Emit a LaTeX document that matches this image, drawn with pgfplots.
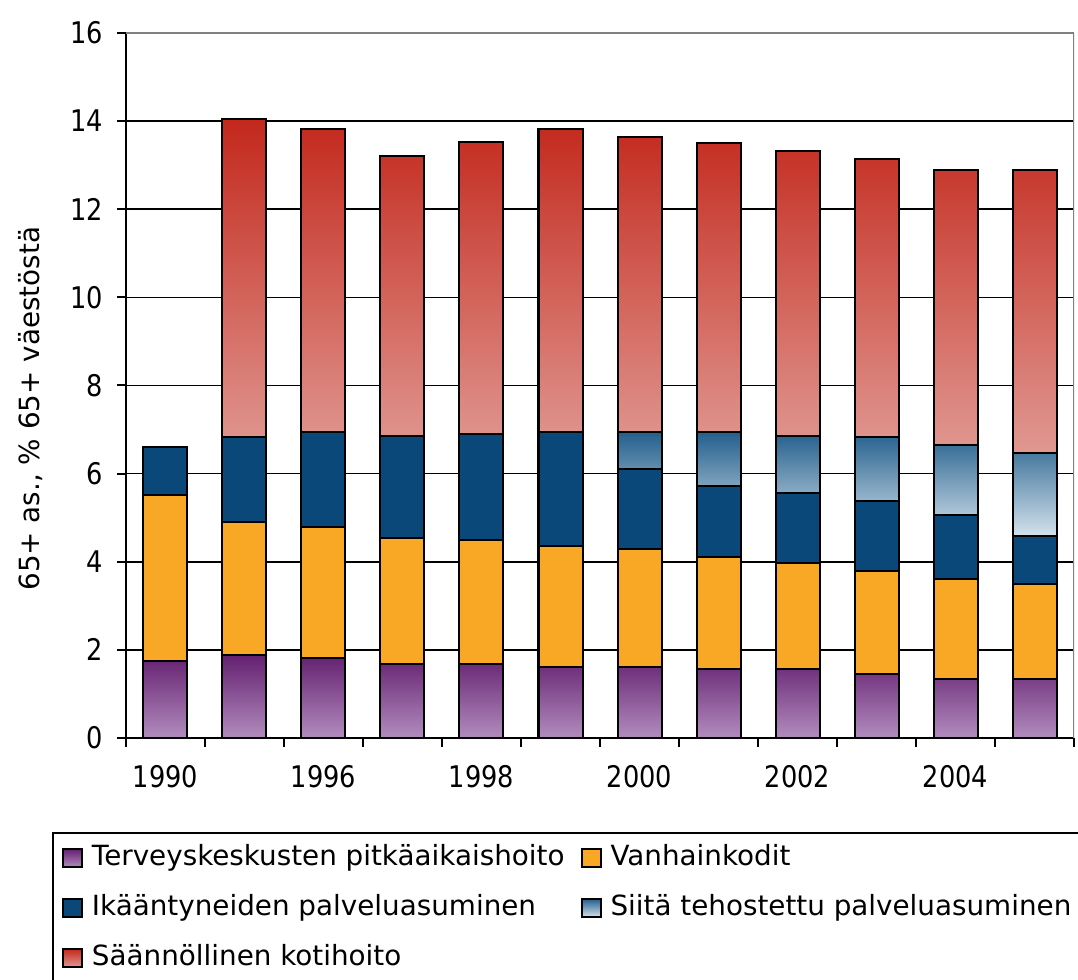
\documentclass[border=0pt]{standalone}
\usepackage{fontspec}
\setmainfont{DejaVu Sans}
\newfontfamily\tickfont[FakeStretch=0.86]{DejaVu Sans}
\usepackage{pgfplots}
\pgfplotsset{compat=1.18}
\definecolor{purpTop}{RGB}{100,32,112}
\definecolor{purpBot}{RGB}{178,140,190}
\definecolor{orng}{RGB}{249,168,37}
\definecolor{dblue}{RGB}{10,72,122}
\definecolor{lbTop}{RGB}{35,95,140}
\definecolor{lbBot}{RGB}{212,226,236}
\definecolor{redTop}{RGB}{195,40,28}
\definecolor{redBot}{RGB}{224,152,146}
\pgfplotsset{sqlegend/.style={legend image code/.code={\draw[##1,line width=1pt] (0pt,-4.5pt) rectangle (9.5pt,4.5pt);}}}
\begin{document}
\begin{tikzpicture}
\begin{axis}[
  scale only axis, width=474pt, height=352.5pt,
  ybar stacked, bar width=22pt,
  xmin=-0.5, xmax=11.5, ymin=0, ymax=16,
  axis x line*=bottom, axis y line*=left,
  axis line style={-, black, line width=1pt},
  tick align=outside,
  ytick={0,2,...,14}, extra y ticks={16},
  extra y tick style={grid style={gray, line width=1pt}},
  ymajorgrids, grid style={black, line width=0.8pt},
  major tick length=4.5pt, minor tick length=4.5pt,
  tick style={black, line width=1pt},
  xtick={0,2,4,6,8,10}, xticklabels={1990,1996,1998,2000,2002,2004},
  major x tick style={draw=none},
  minor xtick={-0.5,0.5,...,11.5},
  ticklabel style={font=\tickfont\fontsize{14.9}{17}\selectfont},
  /pgf/number format/assume math mode=true,
  xticklabel style={yshift=-5.5pt},
  yticklabel style={xshift=-3.5pt},
  ylabel={65+ as., \% 65+ väestöstä},
  ylabel style={at={(ticklabel cs:0.467,-2pt)}, font=\fontsize{13.9}{16}\selectfont},
  legend columns=2,
  legend cell align=left,
  legend style={at={(-0.0781,-0.1333)}, anchor=north west, draw=black, line width=1pt,
    font=\fontsize{13.9}{16}\selectfont, inner xsep=4.5pt, inner ysep=5.6pt,
    column sep=0pt, row sep=11.2pt,
    nodes={inner xsep=4.5pt, inner ysep=0pt, text height=10.5pt, text depth=3.3pt},
    /tikz/every even column/.append style={column sep=3.5pt}},
]
\addplot[draw=black, line width=1pt, top color=purpTop, bottom color=purpBot, sqlegend] coordinates {
(0,1.75) (1,1.88) (2,1.81) (3,1.69) (4,1.69) (5,1.62) (6,1.62) (7,1.56) (8,1.56) (9,1.45) (10,1.33) (11,1.33)};
\addplot[draw=black, line width=1pt, fill=orng, sqlegend] coordinates {
(0,3.76) (1,3.02) (2,2.98) (3,2.85) (4,2.80) (5,2.74) (6,2.67) (7,2.55) (8,2.42) (9,2.34) (10,2.27) (11,2.16)};
\addplot[draw=black, line width=1pt, fill=dblue, sqlegend] coordinates {
(0,1.09) (1,1.93) (2,2.16) (3,2.31) (4,2.42) (5,2.59) (6,1.81) (7,1.61) (8,1.57) (9,1.58) (10,1.46) (11,1.09)};
\addplot[draw=black, line width=1pt, top color=lbTop, bottom color=lbBot, sqlegend] coordinates {
(0,0) (1,0) (2,0) (3,0) (4,0) (5,0) (6,0.85) (7,1.23) (8,1.30) (9,1.46) (10,1.58) (11,1.89)};
\addplot[draw=black, line width=1pt, top color=redTop, bottom color=redBot, sqlegend] coordinates {
(0,0) (1,7.22) (2,6.88) (3,6.35) (4,6.61) (5,6.88) (6,6.69) (7,6.56) (8,6.48) (9,6.31) (10,6.26) (11,6.43)};
\legend{Terveyskeskusten pitkäaikaishoito, Vanhainkodit, Ikääntyneiden palveluasuminen, Siitä tehostettu palveluasuminen, Säännöllinen kotihoito}
\draw[gray, line width=1pt] (rel axis cs:1,0) -- (rel axis cs:1,1);
\end{axis}
\pgfresetboundingbox
\path ([xshift=-63pt,yshift=-121pt]current axis.south west) rectangle ([xshift=2pt,yshift=16.5pt]current axis.north east);
\end{tikzpicture}
\end{document}
